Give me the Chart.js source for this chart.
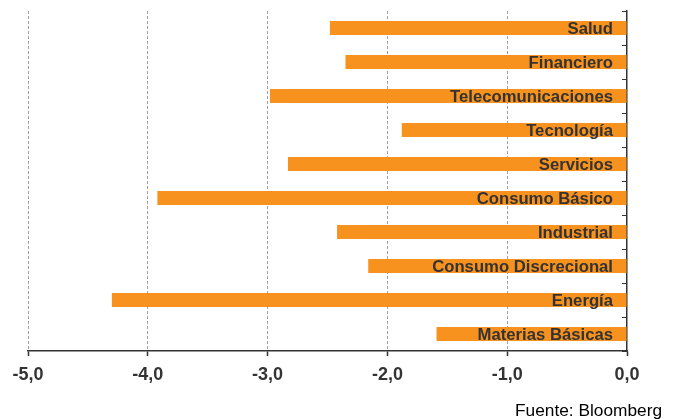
<!DOCTYPE html>
<html>
<head>
<meta charset="utf-8">
<script src="https://cdn.jsdelivr.net/npm/chart.js@4"></script>
<style>
  html, body { margin: 0; padding: 0; background: #fff; }
</style>
</head>
<body>
<canvas id="sectorChart" width="676" height="419"></canvas>
<script>
// sectores y variación (%)
const sectors = ['Salud', 'Financiero', 'Telecomunicaciones', 'Tecnología', 'Servicios',
                 'Consumo Básico', 'Industrial', 'Consumo Discrecional', 'Energía', 'Materias Básicas'];
const changes = [-2.48, -2.35, -2.98, -1.88, -2.83, -3.92, -2.42, -2.16, -4.30, -1.59];
const xTicks = [-5, -4, -3, -2, -1, 0];
const source = 'Fuente: Bloomberg';

const FONT = "'Liberation Sans', Arial, sans-serif";
const DARK = '#333333';

// labels inside the bars + inward ticks on the value axis + source note
const extras = {
    id: 'extras',
    afterDatasetsDraw(chart) {
        const ctx = chart.ctx;
        const area = chart.chartArea;
        const meta = chart.getDatasetMeta(0);
        ctx.save();
        ctx.font = 'bold 16.7px ' + FONT;
        ctx.fillStyle = DARK;
        ctx.textAlign = 'right';
        ctx.textBaseline = 'middle';
        meta.data.forEach((bar, i) => {
            ctx.fillText(sectors[i], area.right - 14, bar.y + 1);
        });

        // small tick marks between categories, pointing into the plot
        const yScale = chart.scales.y;
        ctx.strokeStyle = DARK;
        ctx.lineWidth = 1;
        for (let i = 0; i <= sectors.length; i++) {
            const y = Math.round(yScale.getPixelForValue(i - 0.5)) + 0.5;
            ctx.beginPath();
            ctx.moveTo(area.right - 5, y);
            ctx.lineTo(area.right, y);
            ctx.stroke();
        }

        ctx.font = '17.3px ' + FONT;
        ctx.fillStyle = '#000';
        ctx.textAlign = 'right';
        ctx.textBaseline = 'alphabetic';
        ctx.fillText(source, 662, 416);
        ctx.restore();
    }
};

const ctx = document.getElementById('sectorChart').getContext('2d');
new Chart(ctx, {
    type: 'bar',
    data: {
        labels: sectors,
        datasets: [{
            data: changes,
            backgroundColor: '#F7921F',
            borderWidth: 0,
            barPercentage: 0.41,
            categoryPercentage: 1.0
        }]
    },
    options: {
        indexAxis: 'y',
        responsive: false,
        animation: false,
        layout: { padding: { top: 11, left: 28, right: 49, bottom: 0 } },
        plugins: {
            legend: { display: false },
            tooltip: { enabled: false }
        },
        scales: {
            x: {
                min: -5,
                max: 0,
                afterBuildTicks: scale => {
                    scale.ticks = xTicks.map(v => ({ value: v }));
                },
                afterFit: scale => { scale.height = 68; },
                grid: {
                    color: c => (c.tick && c.tick.value === 0) ? 'rgba(0,0,0,0)' : '#a0a0a0',
                    lineWidth: 1,
                    tickColor: DARK,
                    tickLength: 5,
                    tickBorderDash: [],
                    tickWidth: 1.5
                },
                border: { display: true, color: DARK, width: 1.5, dash: [3, 2] },
                ticks: {
                    padding: 8,
                    color: DARK,
                    font: { family: FONT, size: 18, weight: 'bold' },
                    callback: v => v.toFixed(1).replace('.', ',')
                }
            },
            y: {
                position: 'right',
                afterFit: scale => { scale.width = 0; },
                grid: { display: false },
                border: { display: true, color: DARK, width: 1.5 },
                ticks: { display: false }
            }
        }
    },
    plugins: [extras]
});
</script>
</body>
</html>
